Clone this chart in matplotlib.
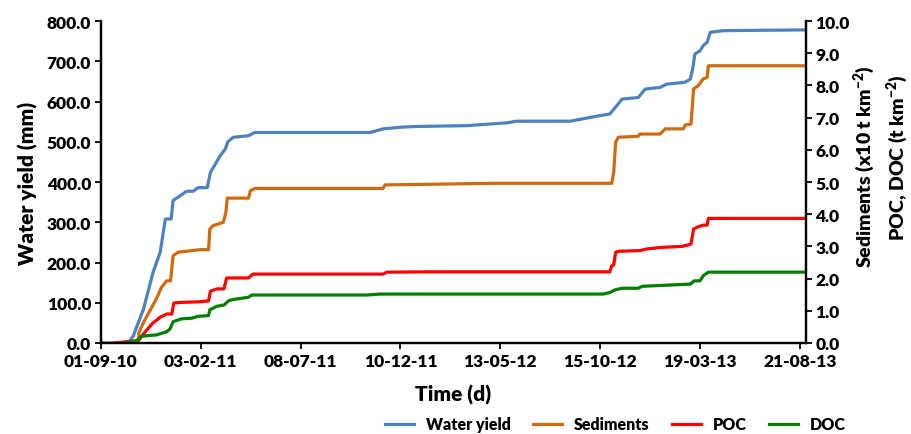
import numpy as np
import pandas as pd
import matplotlib
matplotlib.use("Agg")
import matplotlib.pyplot as plt
import matplotlib.dates as mdates

plt.rcParams["font.family"] = ["Lato", "DejaVu Sans"]
plt.rcParams["font.weight"] = "heavy"
plt.rcParams["mathtext.fontset"] = "custom"
plt.rcParams["mathtext.rm"] = "Lato:heavy"
plt.rcParams["mathtext.default"] = "rm"

# ───────────────────────── Data (days since 01-09-10) ─────────────────────────
start = pd.Timestamp("2010-09-01")

water_days = [0, 42, 50, 66, 81, 92, 100, 109, 112, 123, 133, 143, 151, 165, 170, 185, 193, 197,
              205, 229, 239, 418, 438, 464, 490, 568, 630, 645, 728, 775, 790, 801, 809, 834,
              845, 868, 878, 907, 915, 919, 922, 930, 935, 941, 946, 966, 1094]
water_mm = [0, 0, 17, 84, 176, 226, 308, 308, 354, 366, 377, 377, 386, 386, 424, 465, 482, 500,
            511, 515, 523, 523, 532, 536, 538, 540, 547, 551, 551, 565, 569, 590, 606, 610,
            631, 635, 643, 648, 656, 685, 718, 726, 739, 747, 772, 776, 778]

sed_days = [30, 58, 59, 66, 76, 86, 94, 102, 108, 112, 120, 133, 154, 167, 169, 174, 190, 194, 196,
            229, 232, 239, 438, 441, 614, 793, 796, 799, 803, 834, 837, 868, 876, 904, 907, 916,
            920, 927, 935, 941, 943, 1094]
sed_vals = [0, 0, 0.33, 0.64, 1.00, 1.37, 1.73, 1.93, 1.93, 2.71, 2.82, 2.85, 2.90, 2.90, 3.54, 3.64,
            3.75, 4.06, 4.50, 4.50, 4.73, 4.80, 4.80, 4.91, 4.96, 4.96, 5.30, 6.23, 6.39, 6.42, 6.49,
            6.49, 6.65, 6.65, 6.77, 6.80, 7.89, 7.99, 8.20, 8.25, 8.61, 8.61]

poc_days = [22, 40, 58, 66, 79, 92, 102, 110, 113, 123, 154, 167, 170, 180, 191, 195, 229, 236,
            438, 444, 511, 790, 793, 796, 799, 805, 837, 847, 871, 902, 916, 920, 927, 935, 941,
            943, 1094]
poc_vals = [0, 0.04, 0.07, 0.28, 0.59, 0.80, 0.90, 0.90, 1.24, 1.26, 1.28, 1.31, 1.61, 1.68, 1.68,
            2.02, 2.02, 2.14, 2.14, 2.20, 2.21, 2.21, 2.40, 2.42, 2.82, 2.85, 2.87, 2.92, 2.97, 3.00,
            3.07, 3.54, 3.61, 3.66, 3.66, 3.87, 3.87]

doc_days = [37, 55, 63, 73, 86, 102, 107, 112, 125, 141, 151, 167, 169, 180, 191, 198, 205, 229,
            234, 413, 433, 780, 790, 798, 809, 834, 840, 883, 915, 921, 930, 935, 943, 1094]
doc_vals = [0, 0.07, 0.21, 0.23, 0.25, 0.35, 0.43, 0.66, 0.75, 0.77, 0.83, 0.85, 1.03, 1.14, 1.18,
            1.31, 1.35, 1.42, 1.49, 1.49, 1.52, 1.52, 1.57, 1.65, 1.70, 1.70, 1.76, 1.80, 1.83, 1.93,
            1.93, 2.09, 2.20, 2.20]

tick_labels = ["01-09-10", "03-02-11", "08-07-11", "10-12-11", "13-05-12", "15-10-12", "19-03-13", "21-08-13"]


def to_dates(days):
    return start + pd.to_timedelta(days, unit="D")


# ───────────────────────── Plot ─────────────────────────
fig = plt.figure(figsize=(9.12, 4.35), dpi=100)
ax = fig.add_axes([0.1107, 0.2092, 0.7727, 0.7402])
ax2 = ax.twinx()

lw = 2.3
l1, = ax.plot(to_dates(water_days), water_mm, color="#4F81BD", lw=lw, label="Water yield")
l2, = ax2.plot(to_dates(sed_days), sed_vals, color="#D06A10", lw=lw, label="Sediments")
l3, = ax2.plot(to_dates(poc_days), poc_vals, color="#FF0000", lw=lw, label="POC")
l4, = ax2.plot(to_dates(doc_days), doc_vals, color="#008000", lw=lw, label="DOC")

ticks = pd.to_datetime(tick_labels, format="%d-%m-%y")
ax.set_xticks(ticks)
ax.xaxis.set_major_formatter(mdates.DateFormatter("%d-%m-%y"))
ax.set_xlim(start, start + pd.Timedelta(days=1094))

ax.set_ylim(0, 800)
ax.set_yticks(np.arange(0, 801, 100))
ax.yaxis.set_major_formatter(plt.FuncFormatter(lambda v, p: f"{v:.1f}"))
ax2.set_ylim(0, 10)
ax2.set_yticks(np.arange(0, 11, 1))
ax2.yaxis.set_major_formatter(plt.FuncFormatter(lambda v, p: f"{v:.1f}"))

for a in (ax, ax2):
    a.spines["top"].set_visible(False)
    for s in ("left", "right", "bottom"):
        a.spines[s].set_linewidth(1.6)
    a.tick_params(axis="both", direction="out", length=4, width=1.3, labelsize=12.5, pad=3)

ax.set_ylabel("Water yield (mm)", fontsize=15, fontweight="heavy", labelpad=6)
ax.set_xlabel("Time (d)", fontsize=15, fontweight="heavy", labelpad=11)

fig.text(0.948, 0.618, "Sediments (x10 t km$^{-2}$)", rotation=90, ha="center", va="center",
         fontsize=14, fontweight="heavy")
fig.text(0.984, 0.637, "POC, DOC (t km$^{-2}$)", rotation=90, ha="center", va="center",
         fontsize=14, fontweight="heavy")

fig.legend(handles=[l1, l2, l3, l4], loc="center", bbox_to_anchor=(0.675, 0.022), ncol=4,
           frameon=False, fontsize=11.5, handlelength=1.8, columnspacing=1.4, handletextpad=0.75)

fig.savefig("out.png", dpi=100)
